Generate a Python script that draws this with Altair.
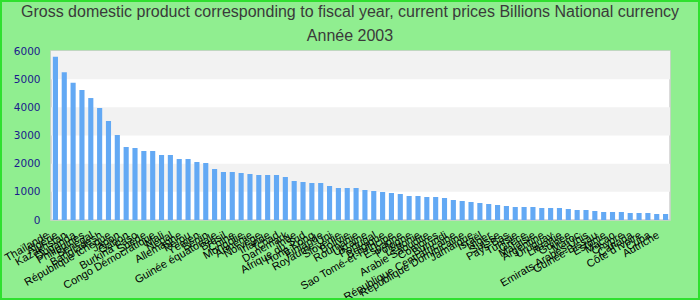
import altair as alt
import pandas as pd

title_lines = [
    "Gross domestic product corresponding to fiscal year, current prices Billions National currency",
    "Année 2003",
]

countries = [
    "Thaïlande", "Algérie", "Kazakhstan", "Ouganda", "Philippines", "Sénégal",
    "Bangladesh", "République tchèque", "Japon", "Gabon", "Burkina Faso", "Suède",
    "Congo Démocratique", "Mali", "Népal", "Allemagne", "Pérou", "Yémen", "Bénin",
    "Guinée équatoriale", "Brésil", "Chine", "Mongolie", "Arménie", "Norvège",
    "Irlande", "Tchad", "Danemark", "Inde", "Afrique du Sud", "Hong Kong",
    "Finlande", "Royaume-Uni", "Slovénie", "Bolivie", "Roumanie", "Ukraine",
    "Portugal", "Belgique", "Sao Tomé-et-Principe", "Espagne", "Pologne",
    "Lettonie", "Arabie Saoudite", "Comores", "Burundi",
    "République Centrafricaine", "République Dominicaine", "Jamaïque", "Israël",
    "Niger", "Suisse", "Pays-Bas", "Tunisie", "Grèce", "Malaisie", "Argentine",
    "Uruguay", "Lituanie", "Guinée", "Maroc", "Emirats Arabes Unis",
    "Guinée-Bissau", "Estonie", "Macao", "Chypre", "Canada", "Côte d'Ivoire",
    "Cuba", "Autriche",
]
values = [
    5800, 5250, 4875, 4615, 4330, 3976, 3515, 3018, 2592, 2556,
    2450, 2450, 2308, 2308, 2166, 2166, 2059, 2024, 1810, 1704,
    1704, 1669, 1633, 1598, 1598, 1598, 1527, 1385, 1349, 1314,
    1314, 1207, 1136, 1136, 1136, 1065, 1030, 994, 959, 923,
    852, 852, 817, 817, 781, 710, 675, 639, 604, 568,
    533, 497, 462, 462, 462, 426, 426, 426, 391, 355,
    355, 320, 284, 284, 284, 249, 249, 249, 213, 213,
]
y_ticks = [0, 1000, 2000, 3000, 4000, 5000, 6000]
band_start = [1000, 3000, 5000]
band_end = [2000, 4000, 6000]

df = pd.DataFrame({"pays": countries, "valeur": values})
bands = pd.DataFrame({"y0": band_start, "y1": band_end})

W, H = 619, 169

yscale = alt.Scale(domain=[0, 6000], nice=False)
yaxis = alt.Axis(values=y_ticks, format="d",
                 grid=False, ticks=False, tickSize=0, domain=False,
                 labelFont="DejaVu Sans", labelFontSize=10.5,
                 labelColor="#1a1a8c", labelPadding=11)

band_layer = alt.Chart(bands).mark_rect(color="#f2f2f2").encode(
    x=alt.value(0), x2=alt.value(W),
    y=alt.Y("y0:Q", scale=yscale, title=None, axis=yaxis), y2="y1:Q",
)

bars = alt.Chart(df).mark_bar(color="#63a9f4").encode(
    x=alt.X("pays:N", sort=None, title=None,
            scale=alt.Scale(paddingInner=0.42, paddingOuter=0.21),
            axis=alt.Axis(labelAngle=-30, labelAlign="right", labelBaseline="top",
                          labelFont="Liberation Sans", labelFontSize=11,
                          labelColor="#000000", labelPadding=9, labelOffset=-10,
                          ticks=False, tickSize=0, domain=False,
                          labelOverlap=False, labelLimit=0)),
    y=alt.Y("valeur:Q", scale=yscale, title=None, axis=yaxis),
)


def title_text(line, ypos):
    return alt.Chart(pd.DataFrame({"t": [line]})).mark_text(
        font="Liberation Sans", fontSize=16, color="#3a3a3a",
        align="center", baseline="alphabetic", clip=False,
    ).encode(text="t:N", x=alt.value(299), y=alt.value(ypos))


title1 = title_text(title_lines[0], -34)
title2 = title_text(title_lines[1], -10)

frame = alt.Chart(bands).mark_rect(fill=None, stroke="#2fe02f", strokeWidth=2,
                                   clip=False).encode(
    x=alt.value(-50), x2=alt.value(648), y=alt.value(-50), y2=alt.value(248),
)

chart = alt.layer(band_layer, bars, title1, title2, frame).properties(
    width=W, height=H,
    padding={"left": 51, "top": 51, "right": 30, "bottom": 80},
    autosize=alt.AutoSizeParams(type="none"),
    background="#90ee90",
).configure_view(stroke="#d0d0d0", strokeWidth=1.5, fill="white")

chart.save("out.html", embed_options={"renderer": "svg", "actions": False})
